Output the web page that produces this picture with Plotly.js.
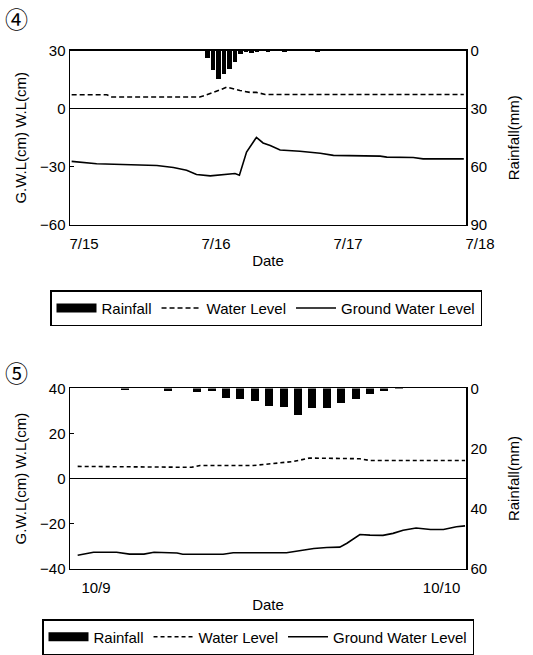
<!DOCTYPE html>
<html>
<head>
<meta charset="utf-8">
<script src="https://cdn.plot.ly/plotly-3.0.1.min.js"></script>
<style>html,body{margin:0;padding:0;background:#fff;}#chart{width:533px;height:655px;}</style>
</head>
<body>
<div id="chart"></div>
<script>
// ---- Chart (4): 7/15 - 7/18, x in hours from 7/15 00:00 ----
const tickHours4 = [0, 24, 48, 72];
const tickText4 = ['7/15', '7/16', '7/17', '7/18'];
const rainHours4 = [25, 26, 27, 28, 29, 30, 31, 32, 33, 34, 36, 39, 45];
const rain4 = [4.1, 10.2, 14.9, 12.3, 9.7, 5.8, 2.0, 0.7, 1.2, 0.5, 0.5, 0.5, 0.8];
const wlHours4 = [0.3, 6.7, 7.6, 23.6, 26.1, 28.5, 30.9, 32.7, 33.9, 35.5, 71.6];
const wl4 = [7.2, 7.2, 6.0, 6.0, 8.4, 11.1, 9.4, 8.4, 8.4, 7.3, 7.3];
const gwlHours4 = [0.3, 4.85, 15.8, 18.8, 21.2, 23.0, 25.5, 29.1, 30.0, 30.8, 32.1, 33.9, 35.1, 36.4, 38.2, 41.8, 45.5, 47.9, 56.4, 57.6, 62.4, 64.2, 71.6];
const gwl4 = [-27.2, -28.4, -29.3, -30.4, -31.8, -34.0, -34.7, -34.0, -33.5, -34.4, -22.4, -14.8, -17.7, -19.0, -21.3, -22.0, -23.0, -24.1, -24.5, -25.0, -25.2, -25.9, -25.9];

// ---- Chart (5): 10/9 - 10/10, x in hours from 10/9 00:00 ----
const tickHours5 = [0, 24];
const tickText5 = ['10/9', '10/10'];
const rainHours5 = [3, 6, 8, 9, 10, 11, 12, 13, 14, 15, 16, 17, 18, 19, 20, 21, 22];
const rain5 = [0.6, 0.9, 1.2, 1.0, 3.3, 3.4, 4.3, 5.8, 6.2, 8.9, 6.5, 6.5, 4.9, 3.5, 2.0, 1.0, 0.3];
const wlHours5 = [-0.3, 7.6, 8.2, 11.9, 14.7, 15.8, 19.3, 20.0, 26.6];
const wl5 = [5.4, 5.0, 5.8, 5.8, 7.6, 9.1, 8.8, 8.0, 8.0];
const gwlHours5 = [-0.3, 0.8, 2.4, 3.3, 4.3, 5.0, 6.6, 7.0, 9.8, 10.5, 14.2, 15.1, 16.1, 17.0, 17.9, 18.4, 19.3, 20.0, 20.9, 21.6, 22.3, 23.2, 24.2, 25.1, 26.0, 26.6];
const gwl5 = [-34.0, -32.7, -32.7, -33.5, -33.5, -32.7, -33.0, -33.6, -33.6, -32.9, -32.9, -32.0, -31.0, -30.6, -30.4, -28.7, -24.8, -25.1, -25.2, -24.3, -22.9, -21.9, -22.6, -22.6, -21.4, -21.0];

const seriesNames = ['Rainfall', 'Water Level', 'Ground Water Level'];
const FONT = 'Liberation Sans, Arial, sans-serif';
const BLACK = '#000000';

const traces = [
  // chart 4
  {type: 'scatter', mode: 'lines', x: [null], y: [null], xaxis: 'x', yaxis: 'y', name: seriesNames[0],
   line: {color: BLACK, width: 9}, legend: 'legend', hoverinfo: 'skip'},
  {type: 'bar', x: rainHours4, y: rain4, xaxis: 'x', yaxis: 'y2', width: 0.8, marker: {color: BLACK, line: {width: 0}},
   showlegend: false, name: seriesNames[0]},
  {type: 'scatter', mode: 'lines', x: wlHours4, y: wl4, xaxis: 'x', yaxis: 'y', name: seriesNames[1],
   line: {color: BLACK, width: 1.6, dash: '5px,3px'}, legend: 'legend'},
  {type: 'scatter', mode: 'lines', x: gwlHours4, y: gwl4, xaxis: 'x', yaxis: 'y', name: seriesNames[2],
   line: {color: BLACK, width: 1.6}, legend: 'legend'},
  // chart 5
  {type: 'scatter', mode: 'lines', x: [null], y: [null], xaxis: 'x2', yaxis: 'y3', name: seriesNames[0],
   line: {color: BLACK, width: 9}, legend: 'legend2', hoverinfo: 'skip'},
  {type: 'bar', x: rainHours5, y: rain5, xaxis: 'x2', yaxis: 'y4', width: 0.55, marker: {color: BLACK, line: {width: 0}},
   showlegend: false, name: seriesNames[0]},
  {type: 'scatter', mode: 'lines', x: wlHours5, y: wl5, xaxis: 'x2', yaxis: 'y3', name: seriesNames[1],
   line: {color: BLACK, width: 1.6, dash: '4px,3px'}, legend: 'legend2'},
  {type: 'scatter', mode: 'lines', x: gwlHours5, y: gwl5, xaxis: 'x2', yaxis: 'y3', name: seriesNames[2],
   line: {color: BLACK, width: 1.6}, legend: 'legend2'}
];

const tickFont = {family: FONT, size: 15, color: BLACK};
const titleFont = {family: FONT, size: 15, color: BLACK};

function xAxis(anchor, range, tv, tt) {
  return {domain: [70/533, 466/533], anchor: anchor, range: range, tickvals: tv, ticktext: tt,
    showline: true, linecolor: BLACK, linewidth: 1.5, mirror: true, showgrid: false, zeroline: false,
    ticks: '', tickfont: tickFont, ticklabelshift: 14, ticklabelstandoff: 5,
    title: {text: 'Date', font: titleFont, standoff: 4}, fixedrange: true};
}
function yLeft(domain, anchor, range, tv) {
  return {domain: domain, anchor: anchor, range: range, tickvals: tv, showline: true, linecolor: BLACK, linewidth: 1.5,
    showgrid: false, zeroline: true, zerolinecolor: BLACK, zerolinewidth: 1.5,
    ticks: 'inside', ticklen: 4, tickcolor: BLACK, tickfont: tickFont,
    title: {text: 'G.W.L(cm) W.L(cm)', font: titleFont, standoff: 10}, fixedrange: true};
}
function yRight(overlay, anchor, range, tv) {
  return {overlaying: overlay, anchor: anchor, side: 'right', range: range, tickvals: tv,
    showline: true, linecolor: BLACK, linewidth: 1.5, showgrid: false, zeroline: false,
    ticks: '', tickfont: tickFont,
    title: {text: 'Rainfall(mm)', font: titleFont, standoff: 22}, fixedrange: true};
}

const legendCommon = {orientation: 'h', xanchor: 'left', yanchor: 'top', bgcolor: '#ffffff',
  bordercolor: BLACK, borderwidth: 1.5, font: {family: FONT, size: 15, color: BLACK}, itemwidth: 40};

const layout = {
  width: 533, height: 655,
  margin: {l: 0, r: 0, t: 0, b: 0},
  paper_bgcolor: '#ffffff', plot_bgcolor: '#ffffff',
  showlegend: true,
  bargap: 0,
  xaxis: xAxis('y', [0, 72], tickHours4, tickText4),
  yaxis: yLeft([1 - 227/655, 1 - 51/655], 'x', [-60, 30], [-60, -30, 0, 30]),
  yaxis2: yRight('y', 'x', [90, 0], [0, 30, 60, 90]),
  xaxis2: xAxis('y3', [-0.833, 26.667], tickHours5, tickText5),
  yaxis3: yLeft([1 - 574/655, 1 - 392/655], 'x2', [-40, 40], [-40, -20, 0, 20, 40]),
  yaxis4: yRight('y3', 'x2', [60, 0], [0, 20, 40, 60]),
  legend: Object.assign({x: 50/533, y: 1 - 293/655}, legendCommon),
  legend2: Object.assign({x: 42/533, y: 1 - 625/655}, legendCommon),
  annotations: [
    {text: '④', xref: 'paper', yref: 'paper', x: 16/533, y: 1 - 18/655, xanchor: 'center', yanchor: 'middle',
     showarrow: false, font: {family: 'Noto Sans CJK JP', size: 23, color: BLACK}},
    {text: '⑤', xref: 'paper', yref: 'paper', x: 16/533, y: 1 - 375/655, xanchor: 'center', yanchor: 'middle',
     showarrow: false, font: {family: 'Noto Sans CJK JP', size: 23, color: BLACK}}
  ]
};

Plotly.newPlot('chart', traces, layout, {displayModeBar: false, staticPlot: true});
</script>
</body>
</html>
